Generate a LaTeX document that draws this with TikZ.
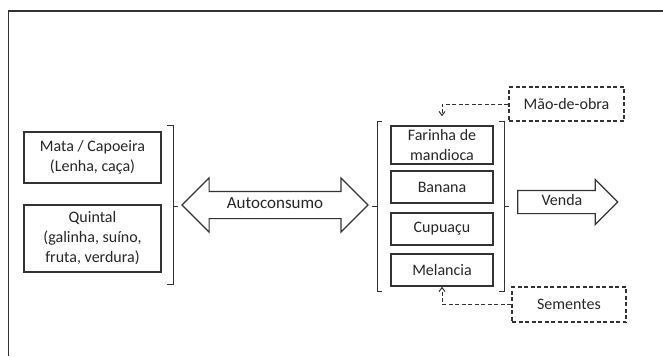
\documentclass[tikz,border=0pt]{standalone}
\usepackage{fontspec}
\setmainfont{Carlito}
\usepackage{tikz}
\usetikzlibrary{shapes.arrows,arrows.meta}
\definecolor{linecolor}{HTML}{333333}
\colorlet{textcolor}{black!85}
\tikzstyle{itembox} = [
    draw=linecolor,
    line width=1.5pt,
    rectangle,
    align=center,
    inner sep=0pt,
    text=textcolor
    ]
\tikzstyle{inputbox} = [
    draw=linecolor,
    line width=1.1pt,
    dash pattern=on 4pt off 2.5pt,
    rectangle,
    inner sep=0pt,
    text=textcolor
    ]
\tikzstyle{flowarrow} = [
    draw=linecolor,
    line width=1.2pt,
    text=textcolor,
    minimum width=0pt,
    inner xsep=0pt,
    text height=11pt,
    text depth=4pt
    ]
\tikzstyle{feed} = [
    draw=linecolor,
    line width=1pt,
    dash pattern=on 4pt off 2.5pt,
    -{Straight Barb[length=4pt,width=6pt]}
    ]
\tikzstyle{bracket} = [draw=linecolor, line width=1pt]

\begin{document}
\begin{tikzpicture}[x=1pt,y=-1pt,font=\fontsize{16}{20}\selectfont]
\useasboundingbox (0,0) rectangle (663,356);
\draw[linecolor, line width=1.1pt] (8.5,356) -- (8.5,11) -- (663,11);

% sources for the household
\node[itembox, minimum width=137pt, minimum height=51pt] (mata) at (92.5,157.5)
    {Mata / Capoeira\\(Lenha, caça)};
\node[itembox, minimum width=137pt, minimum height=67pt] (quintal) at (92.5,238.5)
    {Quintal\\(galinha, suíno,\\fruta, verdura)};
\draw[bracket] (167,125) -- (173,125) -- (173,284) -- (167,284);
\draw[bracket] (173,206) -- (178,206);

\node[flowarrow, double arrow, double arrow head extend=13.5pt, inner ysep=5.5pt,
    minimum height=186pt, font=\fontsize{17}{20}\selectfont] (autoconsumo) at (275,205) {Autoconsumo};

% products
\node[itembox, minimum width=102pt, minimum height=38pt] (farinha) at (442,145)
    {Farinha de\\mandioca};
\node[itembox, minimum width=102pt, minimum height=32pt] (banana) at (442,187) {Banana};
\node[itembox, minimum width=102pt, minimum height=32pt] (cupuacu) at (442,229) {Cupuaçu};
\node[itembox, minimum width=102pt, minimum height=32pt] (melancia) at (442,270) {Melancia};
\draw[bracket] (382,121) -- (377,121) -- (377,291) -- (382,291);
\draw[bracket] (377,206) -- (372,206);
\draw[bracket] (499,121) -- (504,121) -- (504,291) -- (499,291);
\draw[bracket] (504,206) -- (509,206);

\node[flowarrow, single arrow, single arrow head extend=11pt, inner ysep=3.5pt,
    minimum height=100pt] (venda) at (562,202) {Venda};

% inputs
\node[inputbox, minimum width=115pt, minimum height=34pt] (maodeobra) at (566.5,104) {Mão-de-obra};
\node[inputbox, minimum width=114pt, minimum height=35pt] (sementes) at (569,304.5) {Sementes};
\draw[feed] (maodeobra.west) -| ([yshift=9pt]farinha.north);
\draw[feed] (sementes.west) -| (melancia.south);
\end{tikzpicture}
\end{document}
